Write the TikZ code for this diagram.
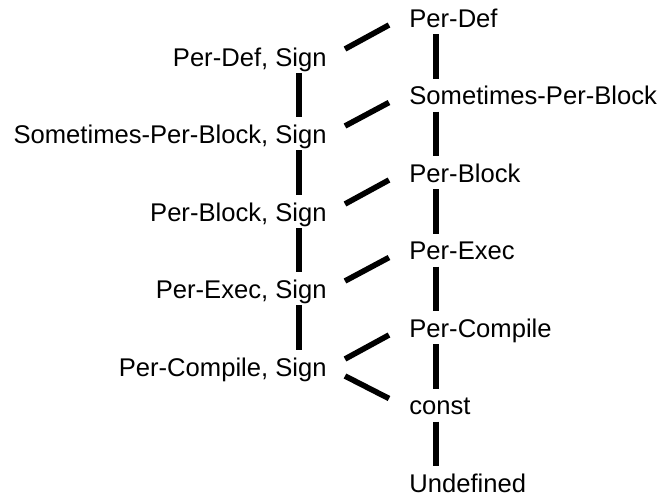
\documentclass[tikz,border=0pt]{standalone}
\usepackage{fontspec}
\setmainfont{Liberation Sans}
\usetikzlibrary{calc}

\begin{document}
\begin{tikzpicture}[x=0.5pt, y=-0.5pt,
lbl/.style={inner sep=0pt, font=\fontsize{12.8}{15}\selectfont},
edge/.style={line width=2.8pt}]
\useasboundingbox (0,0) rectangle (660,500);
\coordinate (lx) at (299,0);
\coordinate (rx) at (436,0);
\begin{scope}
\node (pdef) at (409,27) [lbl, anchor=base west] {Per-Def};
\node (spb) at (409,104.5) [lbl, anchor=base west] {Sometimes-Per-Block};
\node (pblock) at (409,182) [lbl, anchor=base west] {Per-Block};
\node (pexec) at (409,259.5) [lbl, anchor=base west] {Per-Exec};
\node (pcomp) at (409,337) [lbl, anchor=base west] {Per-Compile};
\node (const) at (409,414.5) [lbl, anchor=base west] {const};
\node (undef) at (409,492) [lbl, anchor=base west] {Undefined};
\end{scope}
\begin{scope}
\node (pdefS) at (327,66) [lbl, anchor=base east] {Per-Def, Sign};
\node (spbS) at (327,143) [lbl, anchor=base east] {Sometimes-Per-Block, Sign};
\node (pblockS) at (327,221) [lbl, anchor=base east] {Per-Block, Sign};
\node (pexecS) at (327,298) [lbl, anchor=base east] {Per-Exec, Sign};
\node (pcompS) at (327,376) [lbl, anchor=base east] {Per-Compile, Sign};
\end{scope}
\begin{scope}
\draw [edge] ($(pdef.base -| rx)+(0,7)$) -- ($(spb.base -| rx)+(0,-26)$);
\draw [edge] ($(spb.base -| rx)+(0,7)$) -- ($(pblock.base -| rx)+(0,-26)$);
\draw [edge] ($(pblock.base -| rx)+(0,7)$) -- ($(pexec.base -| rx)+(0,-26)$);
\draw [edge] ($(pexec.base -| rx)+(0,7)$) -- ($(pcomp.base -| rx)+(0,-26)$);
\draw [edge] ($(pcomp.base -| rx)+(0,7)$) -- ($(const.base -| rx)+(0,-26)$);
\draw [edge] ($(const.base -| rx)+(0,7)$) -- ($(undef.base -| rx)+(0,-26)$);
\end{scope}
\begin{scope}
\draw [edge] ($(pdefS.base -| lx)+(0,7)$) -- ($(spbS.base -| lx)+(0,-26)$);
\draw [edge] ($(spbS.base -| lx)+(0,7)$) -- ($(pblockS.base -| lx)+(0,-26)$);
\draw [edge] ($(pblockS.base -| lx)+(0,7)$) -- ($(pexecS.base -| lx)+(0,-26)$);
\draw [edge] ($(pexecS.base -| lx)+(0,7)$) -- ($(pcompS.base -| lx)+(0,-26)$);
\end{scope}
\begin{scope}
\draw [edge] ($(pdefS.base east)+(18,-17)$) -- ($(pdef.base west)+(-20,-2)$);
\draw [edge] ($(spbS.base east)+(18,-17)$) -- ($(spb.base west)+(-20,-2)$);
\draw [edge] ($(pblockS.base east)+(18,-17)$) -- ($(pblock.base west)+(-20,-2)$);
\draw [edge] ($(pexecS.base east)+(18,-17)$) -- ($(pexec.base west)+(-20,-2)$);
\draw [edge] ($(pcompS.base east)+(18,-17)$) -- ($(pcomp.base west)+(-20,-2)$);
\draw [edge] ($(pcompS.base east)+(18,0)$) -- ($(const.base west)+(-20,-16)$);
\end{scope}
\end{tikzpicture}
\end{document}
